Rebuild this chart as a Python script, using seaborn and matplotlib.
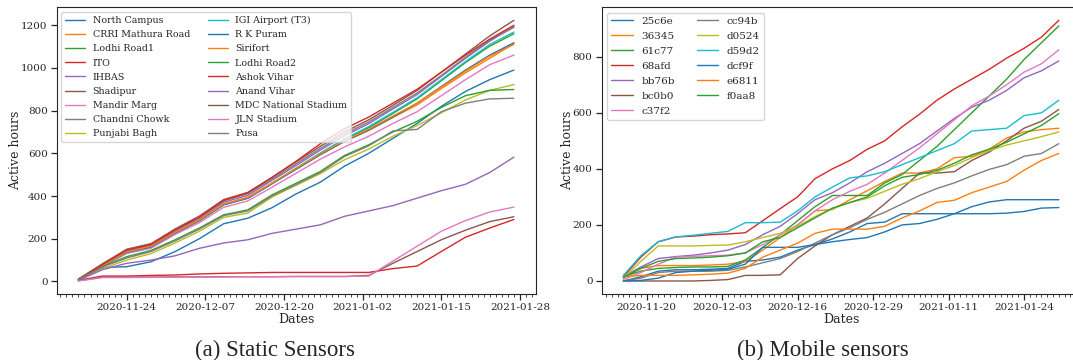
import matplotlib
matplotlib.use("Agg")
import matplotlib.dates as mdates
import matplotlib.pyplot as plt
from matplotlib.ticker import FixedLocator, MultipleLocator
import pandas as pd
import seaborn as sns

# ---- (a) static sensors, cumulative active hours read every 4 days ----
static_dates = pd.date_range("2020-11-16", "2021-01-27", freq="4D")
static_sensors = [
    "North Campus", "CRRI Mathura Road", "Lodhi Road1", "ITO", "IHBAS", "Shadipur",
    "Mandir Marg", "Chandni Chowk", "Punjabi Bagh", "IGI Airport (T3)", "R K Puram",
    "Sirifort", "Lodhi Road2", "Ashok Vihar", "Anand Vihar", "MDC National Stadium",
    "JLN Stadium", "Pusa",
]
static_hours = [
    [5, 65, 69, 92, 140, 200, 270, 296, 345, 410, 465, 540, 600, 670, 740, 820, 890, 945, 990],
    [10, 77, 141, 167, 232, 290, 363, 394, 460, 527, 595, 656, 707, 768, 827, 903, 977, 1045, 1114],
    [10, 72, 134, 160, 226, 284, 359, 391, 459, 530, 600, 665, 720, 787, 855, 940, 1025, 1102, 1160],
    [5, 25, 25, 28, 30, 35, 38, 40, 42, 42, 42, 42, 42, 60, 72, 140, 207, 250, 290],
    [10, 77, 143, 170, 237, 296, 371, 403, 473, 543, 615, 682, 739, 808, 875, 960, 1045, 1125, 1194],
    [10, 83, 151, 177, 246, 306, 383, 417, 487, 560, 633, 700, 757, 825, 895, 980, 1065, 1150, 1223],
    [8, 71, 131, 155, 220, 275, 347, 377, 441, 507, 573, 630, 680, 740, 795, 870, 945, 1015, 1060],
    [12, 81, 149, 175, 242, 302, 377, 411, 479, 551, 623, 690, 747, 815, 883, 965, 1050, 1130, 1190],
    [5, 60, 100, 130, 180, 235, 300, 320, 395, 450, 505, 570, 620, 680, 730, 790, 850, 895, 922],
    [10, 73, 136, 163, 229, 286, 360, 391, 459, 530, 601, 668, 725, 792, 860, 945, 1030, 1110, 1168],
    [10, 75, 137, 162, 228, 285, 359, 389, 457, 525, 593, 656, 709, 770, 835, 913, 990, 1060, 1118],
    [10, 75, 139, 165, 230, 288, 362, 393, 460, 529, 597, 660, 713, 775, 835, 910, 985, 1055, 1110],
    [10, 70, 116, 145, 195, 250, 312, 335, 405, 460, 515, 590, 640, 700, 750, 815, 870, 895, 899],
    [8, 80, 147, 173, 242, 302, 380, 415, 487, 563, 645, 715, 770, 835, 900, 980, 1060, 1135, 1200],
    [5, 55, 85, 100, 120, 155, 180, 195, 225, 245, 265, 305, 330, 355, 390, 425, 455, 510, 582],
    [3, 20, 20, 20, 21, 21, 22, 22, 22, 23, 23, 23, 28, 85, 140, 195, 240, 280, 303],
    [2, 18, 18, 19, 20, 20, 21, 22, 22, 23, 23, 23, 25, 95, 165, 235, 285, 325, 348],
    [8, 68, 110, 140, 190, 245, 308, 330, 400, 455, 510, 585, 635, 705, 712, 795, 835, 855, 858],
]
static_ticks = ["2020-11-24", "2020-12-07", "2020-12-20", "2021-01-02", "2021-01-15", "2021-01-28"]

# ---- (b) mobile sensors, read every 3 days ----
mobile_dates = pd.date_range("2020-11-16", "2021-01-30", freq="3D")
mobile_sensors = ["25c6e", "36345", "61c77", "68afd", "bb76b", "bc0b0", "c37f2",
                  "cc94b", "d0524", "d59d2", "dcf9f", "e6811", "f0aa8"]
mobile_hours = [
    [0, 15, 35, 40, 40, 42, 45, 70, 75, 85, 110, 130, 150, 175, 205, 210, 240, 240, 240, 240, 240, 240, 242, 248, 260, 262],
    [15, 45, 55, 55, 55, 57, 60, 70, 110, 155, 200, 250, 255, 290, 322, 355, 385, 385, 400, 440, 445, 470, 510, 532, 540, 545],
    [15, 35, 45, 48, 50, 50, 52, 75, 120, 165, 215, 265, 305, 305, 305, 350, 380, 430, 480, 540, 600, 660, 720, 790, 850, 910],
    [15, 85, 140, 157, 160, 165, 168, 172, 215, 258, 300, 365, 400, 430, 470, 500, 550, 595, 645, 685, 720, 755, 795, 830, 870, 930],
    [15, 50, 80, 87, 92, 100, 110, 130, 165, 195, 240, 290, 315, 350, 390, 420, 455, 490, 535, 580, 620, 645, 680, 725, 750, 785],
    [0, 0, 0, 0, 0, 2, 5, 20, 20, 22, 80, 125, 165, 195, 225, 275, 330, 385, 385, 390, 430, 460, 500, 545, 570, 612],
    [5, 30, 60, 85, 88, 90, 92, 100, 130, 165, 200, 250, 290, 320, 345, 385, 430, 475, 525, 575, 625, 660, 700, 745, 775, 825],
    [0, 10, 30, 35, 35, 35, 38, 50, 65, 80, 105, 135, 165, 190, 220, 245, 275, 305, 330, 350, 375, 398, 415, 445, 455, 490],
    [10, 70, 125, 125, 125, 127, 128, 140, 155, 170, 195, 230, 258, 280, 295, 320, 345, 365, 390, 412, 440, 465, 485, 500, 515, 532],
    [20, 90, 140, 157, 163, 170, 177, 208, 208, 210, 250, 300, 335, 368, 375, 390, 415, 440, 465, 490, 535, 540, 545, 590, 600, 645],
    [0, 2, 10, 30, 35, 38, 42, 60, 120, 120, 120, 130, 140, 148, 155, 175, 200, 205, 220, 240, 265, 282, 290, 290, 290, 290],
    [15, 20, 20, 20, 22, 24, 28, 45, 85, 110, 135, 170, 185, 185, 185, 195, 225, 250, 280, 288, 315, 335, 355, 395, 430, 455],
    [12, 45, 70, 80, 82, 85, 90, 100, 140, 155, 190, 225, 260, 280, 300, 340, 370, 380, 395, 420, 450, 470, 495, 525, 555, 597],
]
mobile_ticks = ["2020-11-20", "2020-12-03", "2020-12-16", "2020-12-29", "2021-01-11", "2021-01-24"]


def to_long(dates, names, values):
    frames = [pd.DataFrame({"date": dates, "hours": v, "sensor": n}) for n, v in zip(names, values)]
    return pd.concat(frames, ignore_index=True)


def draw_panel(ax, df, names, ticks, legend_size, col_space):
    tab10 = sns.color_palette("tab10")
    colors = [tab10[i % 10] for i in range(len(names))]
    sns.lineplot(data=df, x="date", y="hours", hue="sensor", hue_order=names,
                 palette=colors, linewidth=1.0, errorbar=None, ax=ax)
    ax.xaxis.set_major_locator(FixedLocator(mdates.date2num(pd.to_datetime(ticks))))
    ax.xaxis.set_major_formatter(mdates.DateFormatter("%Y-%m-%d"))
    ax.xaxis.set_minor_locator(mdates.DayLocator())
    ax.yaxis.set_major_locator(MultipleLocator(200))
    ax.tick_params(axis="both", which="major", labelsize=7.5, length=4, width=0.9, pad=2.5)
    ax.tick_params(axis="x", which="minor", length=2, width=0.6)
    ax.set_xlabel("Dates", fontsize=9, labelpad=1)
    ax.set_ylabel("Active hours", fontsize=9, labelpad=-1)
    ax.legend(loc="upper left", ncol=2, fontsize=legend_size, handlelength=2.1,
              labelspacing=0.55, columnspacing=col_space, borderpad=0.4)


sns.set_style("ticks")
plt.rcParams["font.family"] = ["DejaVu Serif"]

fig = plt.figure(figsize=(10.73, 3.6), dpi=100)
ax1 = fig.add_axes([0.0528, 0.1833, 0.4464, 0.7964])
ax2 = fig.add_axes([0.5607, 0.1833, 0.4464, 0.7964])

draw_panel(ax1, to_long(static_dates, static_sensors, static_hours), static_sensors, static_ticks, 6.8, 1.9)
draw_panel(ax2, to_long(mobile_dates, mobile_sensors, mobile_hours), mobile_sensors, mobile_ticks, 7.5, 2.1)

fig.text(275 / 1073, 1 - 350 / 360, "(a) Static Sensors", ha="center", va="center",
         fontsize=16.5, family="Liberation Serif")
fig.text(823 / 1073, 1 - 350 / 360, "(b) Mobile sensors", ha="center", va="center",
         fontsize=16.5, family="Liberation Serif")

fig.savefig("out.png", dpi=100)
